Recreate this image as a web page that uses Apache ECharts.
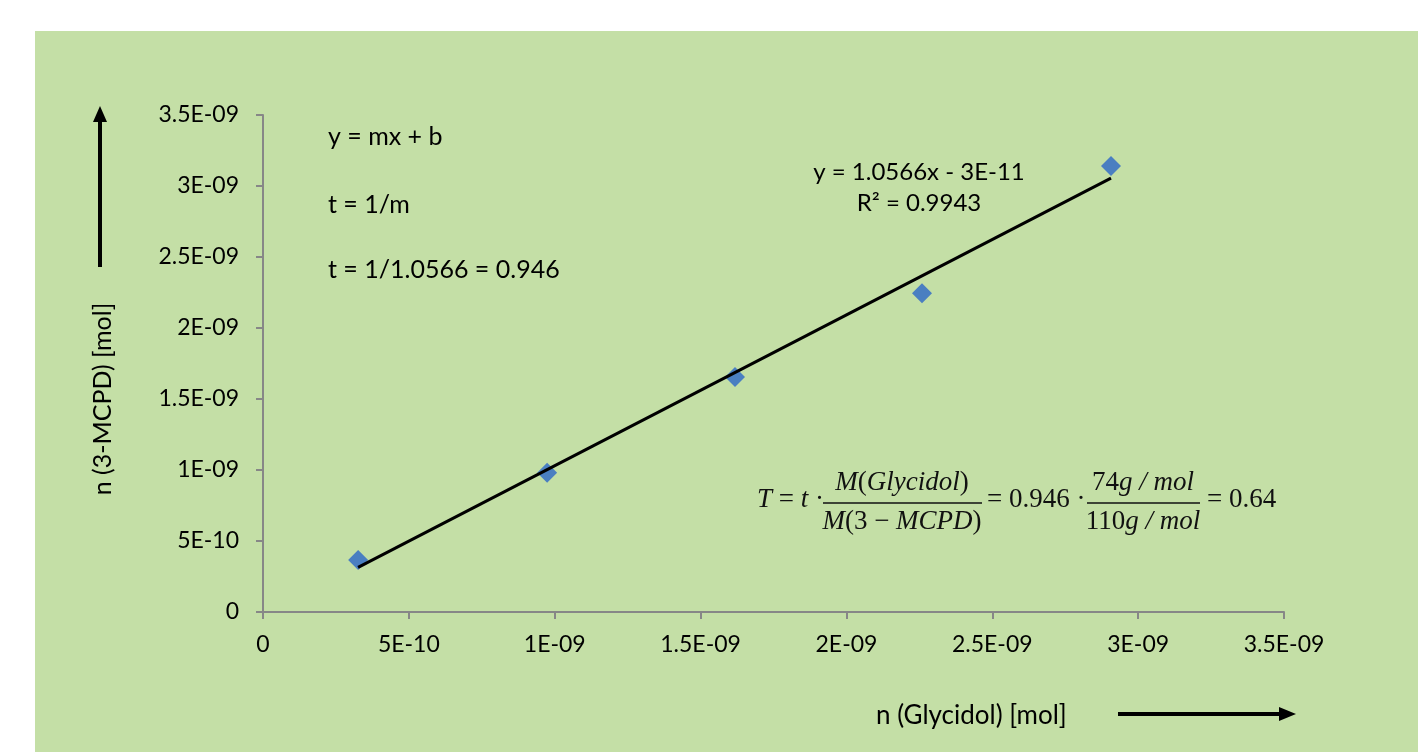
<!DOCTYPE html>
<html>
<head>
<meta charset="utf-8">
<script src="https://cdn.jsdelivr.net/npm/echarts@6/dist/echarts.min.js"></script>
<style>
    html, body { margin: 0; padding: 0; background: #ffffff; }
    #chart { width: 1418px; height: 752px; }
</style>
</head>
<body>
<div id="chart"></div>
<script>
// measured points: n(Glycidol) vs n(3-MCPD), mol
var glycidol = [3.26e-10, 9.74e-10, 1.618e-9, 2.259e-9, 2.907e-9];
var mcpd = [3.66e-10, 9.8e-10, 1.655e-9, 2.245e-9, 3.14e-9];

// linear trendline end points
var trendX = [3.26e-10, 2.907e-9];
var trendY = [3.14e-10, 3.056e-9];

var axisTicks = [0, 5e-10, 1e-9, 1.5e-9, 2e-9, 2.5e-9, 3e-9, 3.5e-9];
var tickLabels = ['0', '5E-10', '1E-09', '1.5E-09', '2E-09', '2.5E-09', '3E-09', '3.5E-09'];

var notes = ['y = mx + b', 't = 1/m', 't = 1/1.0566 = 0.946'];
var fitText = ['y = 1.0566x - 3E-11', 'R\u00b2 = 0.9943'];

var font = 'Lato, "Open Sans", sans-serif';
var serif = '"Liberation Serif", "DejaVu Serif", serif';

function fmt(v) {
    var idx = -1;
    axisTicks.forEach(function(t, i) {
        if (Math.abs(t - v) < 1e-12) idx = i;
    });
    return idx > -1 ? tickLabels[idx] : '';
}

var myChart = echarts.init(document.getElementById('chart'));

var axisCommon = {
    type: 'value',
    min: 0,
    max: 3.5e-9,
    interval: 5e-10,
    axisLine: { show: true, lineStyle: { color: '#878787', width: 2 } },
    axisTick: { show: true, length: 7, lineStyle: { color: '#878787', width: 2 } },
    splitLine: { show: false },
    axisLabel: {
        color: '#000',
        fontSize: 23,
        fontFamily: font,
        formatter: fmt
    }
};

var xAxis = echarts.util.merge({}, axisCommon, true);
xAxis.axisLabel = echarts.util.extend({ margin: 21 }, axisCommon.axisLabel);
var yAxis = echarts.util.merge({}, axisCommon, true);
yAxis.axisLabel = echarts.util.extend({ margin: 24 }, axisCommon.axisLabel);

var graphic = [
    {
        type: 'rect', z: -10, silent: true,
        shape: { x: 35, y: 31, width: 1383, height: 721 },
        style: { fill: '#c4dfa6' }
    }
];

// left notes
notes.forEach(function(txt, i) {
    graphic.push({
        type: 'text', x: 328, y: [137, 205, 270][i],
        style: { text: txt, fontSize: 25, fontFamily: font, fill: '#000', verticalAlign: 'middle' }
    });
});

// trendline label
fitText.forEach(function(txt, i) {
    graphic.push({
        type: 'text', x: 919, y: [172, 203][i],
        style: { text: txt, fontSize: 24, fontFamily: font, fill: '#000', align: 'center', verticalAlign: 'middle' }
    });
});

// axis names
graphic.push({
    type: 'text', x: 103, y: 399, rotation: Math.PI / 2,
    style: { text: 'n (3-MCPD) [mol]', fontSize: 25, fontFamily: font, fill: '#000', align: 'center', verticalAlign: 'middle' }
});
graphic.push({
    type: 'text', x: 876, y: 716,
    style: { text: 'n (Glycidol) [mol]', fontSize: 26, fontFamily: font, fill: '#000', align: 'left', verticalAlign: 'middle' }
});

// arrows
graphic.push({ type: 'line', shape: { x1: 100, y1: 267, x2: 100, y2: 118 }, style: { stroke: '#000', lineWidth: 4 } });
graphic.push({ type: 'polygon', shape: { points: [[100, 106], [93, 122], [107, 122]] }, style: { fill: '#000' } });
graphic.push({ type: 'line', shape: { x1: 1118, y1: 714, x2: 1282, y2: 714 }, style: { stroke: '#000', lineWidth: 4 } });
graphic.push({ type: 'polygon', shape: { points: [[1296, 714], [1279, 707], [1279, 721]] }, style: { fill: '#000' } });

// formula T = t * M(Glycidol)/M(3-MCPD) = 0.946 * 74g/mol / 110g/mol = 0.64
function ftext(x, y, txt, align) {
    graphic.push({
        type: 'text', x: x, y: y,
        style: { rich: {
            i: { fontFamily: serif, fontStyle: 'italic', fontSize: 27, fill: '#111' },
            n: { fontFamily: serif, fontSize: 27, fill: '#111' }
        }, text: txt, align: align || 'left', verticalAlign: 'middle' }
    });
}
ftext(757, 500, '{i|T}{n| = }{i|t}{n| \u00b7}');
ftext(902, 483, '{i|M}{n|(}{i|Glycidol}{n|)}', 'center');
graphic.push({ type: 'line', shape: { x1: 823, y1: 503, x2: 982, y2: 503 }, style: { stroke: '#111', lineWidth: 1.5 } });
ftext(902, 522, '{i|M}{n|(3 \u2212 }{i|MCPD}{n|)}', 'center');
ftext(987, 500, '{n|= 0.946 \u00b7}');
graphic.push({ type: 'line', shape: { x1: 1087, y1: 503, x2: 1200, y2: 503 }, style: { stroke: '#111', lineWidth: 1.5 } });
ftext(1143, 483, '{n|74}{i|g / mol}', 'center');
ftext(1143, 522, '{n|110}{i|g / mol}', 'center');
ftext(1207, 500, '{n|= 0.64}');

var option = {
    backgroundColor: '#ffffff',
    animation: false,
    grid: { left: 263, right: 134, top: 115, bottom: 140 },
    xAxis: xAxis,
    yAxis: yAxis,
    graphic: graphic,
    series: [
        {
            type: 'scatter',
            symbol: 'diamond',
            symbolSize: 20,
            itemStyle: { color: '#4a7fc1', opacity: 1 },
            data: glycidol.map(function(x, i) { return [x, mcpd[i]]; }),
            z: 2
        },
        {
            type: 'line',
            showSymbol: false,
            symbol: 'none',
            lineStyle: { color: '#000', width: 3 },
            data: trendX.map(function(x, i) { return [x, trendY[i]]; }),
            z: 3
        }
    ]
};

myChart.setOption(option);
</script>
</body>
</html>
